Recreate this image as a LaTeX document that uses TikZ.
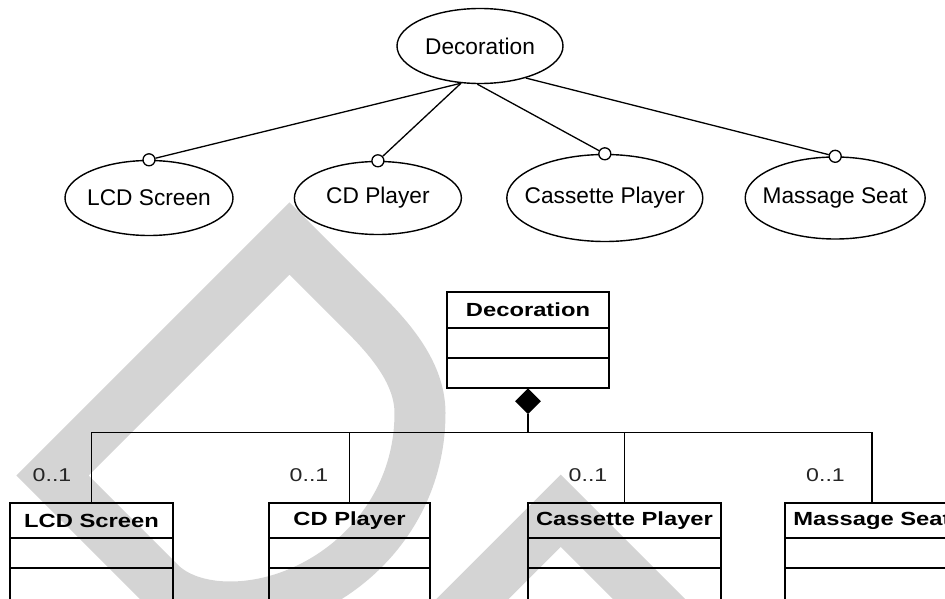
\documentclass[tikz,border=0pt]{standalone}
\usepackage{fontspec}
\setmainfont{Liberation Sans}
\newfontfamily\umlfont[FakeStretch=1.25]{Liberation Sans}
\usetikzlibrary{shapes,shapes.geometric,positioning,calc}

\begin{document}
\begin{tikzpicture}[x=1pt,y=-1pt,
font=\fontsize{22.7}{27}\selectfont]

\tikzstyle{usecase}=[ellipse, draw, line width=1.4pt, inner sep=0pt]
\tikzstyle{socket}=[circle, draw, fill=white, line width=1.3pt, minimum size=12pt, inner sep=0pt]
\tikzstyle{link}=[line width=1.3pt]
\tikzstyle{classname}=[rectangle, draw, line width=1.8pt, outer sep=0pt, minimum height=35pt,
font=\umlfont\fontsize{19}{23}\selectfont\bfseries]
\tikzstyle{compart}=[rectangle, draw, line width=1.8pt, outer sep=0pt, minimum height=30pt]
\tikzstyle{mult}=[inner sep=0pt, anchor=base east, text=black!85,
font=\umlfont\fontsize{18.5}{22}\selectfont]
\tikzstyle{bus}=[line width=1.4pt]

\path[use as bounding box, clip] (0,0) rectangle (945,599);

%watermark
\begin{scope}[color=black!17, line width=51pt, line join=miter]
\draw (289.5,238.5) -- (360,309)
	.. controls (385,334) and (420,370) .. (420,413)
	.. controls (420,530) and (320,607) .. (230,607)
	.. controls (200,607) and (175,598) .. (160,583)
	-- (52.5,475.5) -- cycle;
\draw (440.75,630.75) -- (560.75,510.75) -- (680.75,630.75);
\end{scope}

%feature tree
\node[usecase, minimum width=166pt, minimum height=75pt, label=center:Decoration]
(udec) at (480,46)
{};

\node[usecase, minimum width=168pt, minimum height=75pt, label=center:LCD Screen]
(ulcd) at (149,198)
{};

\node[usecase, minimum width=167pt, minimum height=73pt, label=center:CD Player]
(ucd) [right=60pt of ulcd]
{};

\node[usecase, minimum width=196pt, minimum height=87pt, label=center:Cassette Player]
(ucas) [right=44pt of ucd]
{};

\node[usecase, minimum width=180pt, minimum height=82pt, label=center:Massage Seat]
(ums) [right=41pt of ucas]
{};

\node[socket] (slcd) at (ulcd.north) {};
\node[socket] (scd) at (ucd.north) {};
\node[socket] (scas) at (ucas.north) {};
\node[socket] (sms) at (ums.north) {};

\path[link] (udec.243) edge (slcd);
\path[link] (udec.243) edge (scd);
\path[link] (udec.266) edge (scas);
\path[link] (udec.325) edge (sms);

%class diagram
\node[classname, minimum width=162pt, minimum height=36pt]
(cdec) at (528,310)
{Decoration};
\node[compart, minimum width=162pt] (cdeca) [below=0pt of cdec] {};
\node[compart, minimum width=162pt] (cdecb) [below=0pt of cdeca] {};

\node[diamond, fill=black, minimum width=26pt, minimum height=26pt, inner sep=0pt]
(comp) [below=0pt of cdecb]
{};
\coordinate[below=18pt of comp.south] (bus);

\node[classname, minimum width=163pt]
(clcd) at (91.5,520.5)
{LCD Screen};
\node[compart, minimum width=163pt] (clcda) [below=0pt of clcd] {};
\node[compart, minimum width=163pt, minimum height=36pt] (clcdb) [below=0pt of clcda] {};

\node[classname, minimum width=161pt]
(ccd) at (349.5,520.5)
{CD Player};
\node[compart, minimum width=161pt] (ccda) [below=0pt of ccd] {};
\node[compart, minimum width=161pt, minimum height=36pt] (ccdb) [below=0pt of ccda] {};

\node[classname, minimum width=193pt]
(ccas) at (624.5,520.5)
{Cassette Player};
\node[compart, minimum width=193pt] (ccasa) [below=0pt of ccas] {};
\node[compart, minimum width=193pt, minimum height=36pt] (ccasb) [below=0pt of ccasa] {};

\node[classname, minimum width=174pt]
(cms) at (872,520.5)
{Massage Seat};
\node[compart, minimum width=174pt] (cmsa) [below=0pt of cms] {};
\node[compart, minimum width=174pt, minimum height=36pt] (cmsb) [below=0pt of cmsa] {};

\draw[line width=2.8pt] (comp.south) -- (bus);
\draw[bus] (clcd.north) |- (bus) -| (cms.north);
\draw[bus] (ccd.north) -- (ccd.north |- bus);
\draw[bus] (ccas.north) -- (ccas.north |- bus);

\node[mult] (mlcd) at ($(clcd.north)+(-20,-22)$) {0..1};
\node[mult] (mcd) at ($(ccd.north)+(-21,-22)$) {0..1};
\node[mult] (mcas) at ($(ccas.north)+(-17,-22)$) {0..1};
\node[mult] (mms) at ($(cms.north)+(-27,-22)$) {0..1};

\end{tikzpicture}
\end{document}
